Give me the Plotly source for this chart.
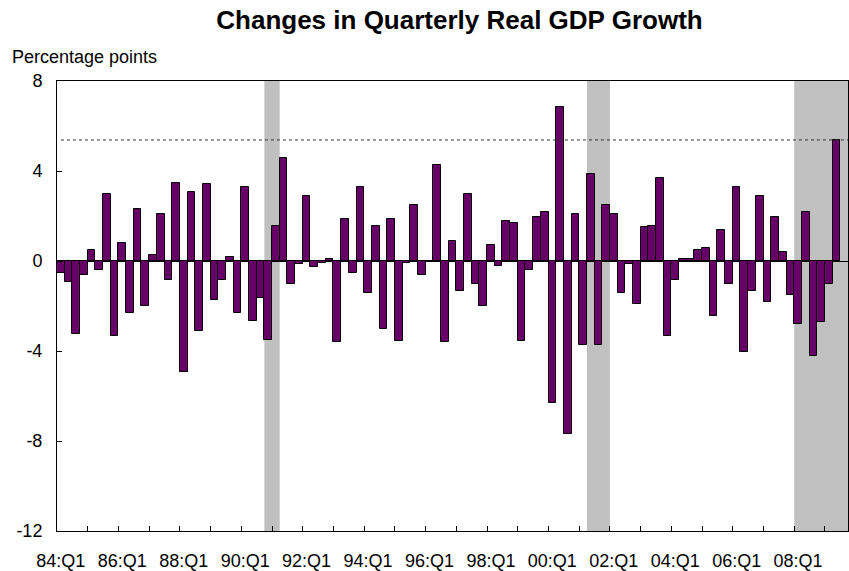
import plotly.graph_objects as go

# Changes in quarterly real GDP growth (percentage points), 84:Q1 .. 09:Q2
values = [
    -0.52, -0.92, -3.24, -0.62, 0.49, -0.41, 2.98, -3.32,
    0.80, -2.33, 2.30, -2.01, 0.27, 2.10, -0.83, 3.48,
    -4.92, 3.05, -3.11, 3.41, -1.72, -0.83, 0.18, -2.31,
    3.27, -2.65, -1.63, -3.53, 1.57, 4.59, -1.04, -0.12,
    2.89, -0.25, -0.10, 0.07, -3.61, 1.88, -0.53, 3.27,
    -1.42, 1.57, -3.04, 1.88, -3.54, -0.10, 2.47, -0.62,
    0.00, 4.28, -3.61, 0.87, -1.33, 2.98, -1.04, -2.01,
    0.70, -0.24, 1.79, 1.67, -3.54, -0.41, 1.96, 2.16,
    -6.33, 6.84, -7.70, 2.09, -3.73, 3.85, -3.73, 2.47,
    2.10, -1.42, -0.12, -1.93, 1.50, 1.57, 3.69, -3.32,
    -0.83, 0.07, 0.07, 0.49, 0.56, -2.43, 1.36, -1.04,
    3.27, -4.03, -1.33, 2.89, -1.84, 1.96, 0.40, -1.51,
    -2.81, 2.16, -4.21, -2.73, -1.04, 5.38,
]

n_categories = 103  # 84:Q1 .. 09:Q3
quarters = [f"{(84 + i // 4) % 100:02d}:Q{i % 4 + 1}" for i in range(n_categories)]

tick_labels = ["84:Q1", "86:Q1", "88:Q1", "90:Q1", "92:Q1", "94:Q1", "96:Q1",
               "98:Q1", "00:Q1", "02:Q1", "04:Q1", "06:Q1", "08:Q1"]

recessions = [("90:Q4", "91:Q1"), ("01:Q2", "01:Q4"), ("08:Q1", "09:Q3")]

y_ticks = [8, 4, 0, -4, -8, -12]
y_tick_labels = ["8", "4", "0", "-4", "-8", "-12"]

x_idx = list(range(len(values)))
tick_pos = [quarters.index(t) for t in tick_labels]
minor_pos = [i + 0.5 for i in range(3, n_categories - 1, 4)]

FONT = "Liberation Sans, Arial, sans-serif"

fig = go.Figure()
fig.add_trace(go.Bar(
    x=x_idx, y=values,
    marker=dict(color="#660066", line=dict(color="black", width=1)),
    width=1.0,
    hoverinfo="y",
))

shapes = []
for a, b in recessions:
    shapes.append(dict(type="rect", xref="x", yref="paper",
                       x0=quarters.index(a) - 0.5, x1=quarters.index(b) + 0.5,
                       y0=0, y1=1, fillcolor="#C0C0C0", line=dict(width=0),
                       layer="below"))
shapes.append(dict(type="line", xref="paper", yref="y",
                   x0=0.005, x1=1, y0=values[-1], y1=values[-1],
                   line=dict(color="#333333", width=1, dash="dot"),
                   layer="above"))

fig.update_layout(
    width=849, height=571,
    margin=dict(l=57, r=1, t=81, b=40),
    paper_bgcolor="white", plot_bgcolor="white",
    showlegend=False,
    bargap=0,
    shapes=shapes,
    font=dict(family=FONT, size=18, color="black"),
    title=dict(text="<b>Changes in Quarterly Real GDP Growth</b>",
               x=459.5 / 849, xanchor="center", y=1 - 20 / 571, yanchor="middle",
               font=dict(family=FONT, size=26, color="black")),
    annotations=[dict(text="Percentage points", xref="paper", yref="paper",
                      x=(10 - 57) / 791, y=(531 - 57) / 450, xanchor="left",
                      yanchor="middle", showarrow=False,
                      font=dict(family=FONT, size=18, color="black"))],
    xaxis=dict(range=[-0.5, n_categories - 0.5], tickmode="array",
               tickvals=tick_pos, ticktext=tick_labels, ticks="",
               showgrid=False, zeroline=False, showline=True, linecolor="black",
               linewidth=1, mirror=True, ticklabelstandoff=13, automargin=False,
               minor=dict(tickmode="array", tickvals=minor_pos, ticks="inside",
                          ticklen=5, tickcolor="black", tickwidth=1, showgrid=False)),
    yaxis=dict(range=[-12, 8], tickmode="array", tickvals=y_ticks,
               ticktext=y_tick_labels,
               ticks="inside", ticklen=5, tickcolor="black",
               showgrid=False, zeroline=True, zerolinecolor="black", zerolinewidth=1,
               showline=True, linecolor="black", linewidth=1, mirror=True,
               ticklabelstandoff=10, automargin=False),
)

fig.write_html("out.html", config={"displayModeBar": False},
               post_script="document.body.style.margin='0';")
